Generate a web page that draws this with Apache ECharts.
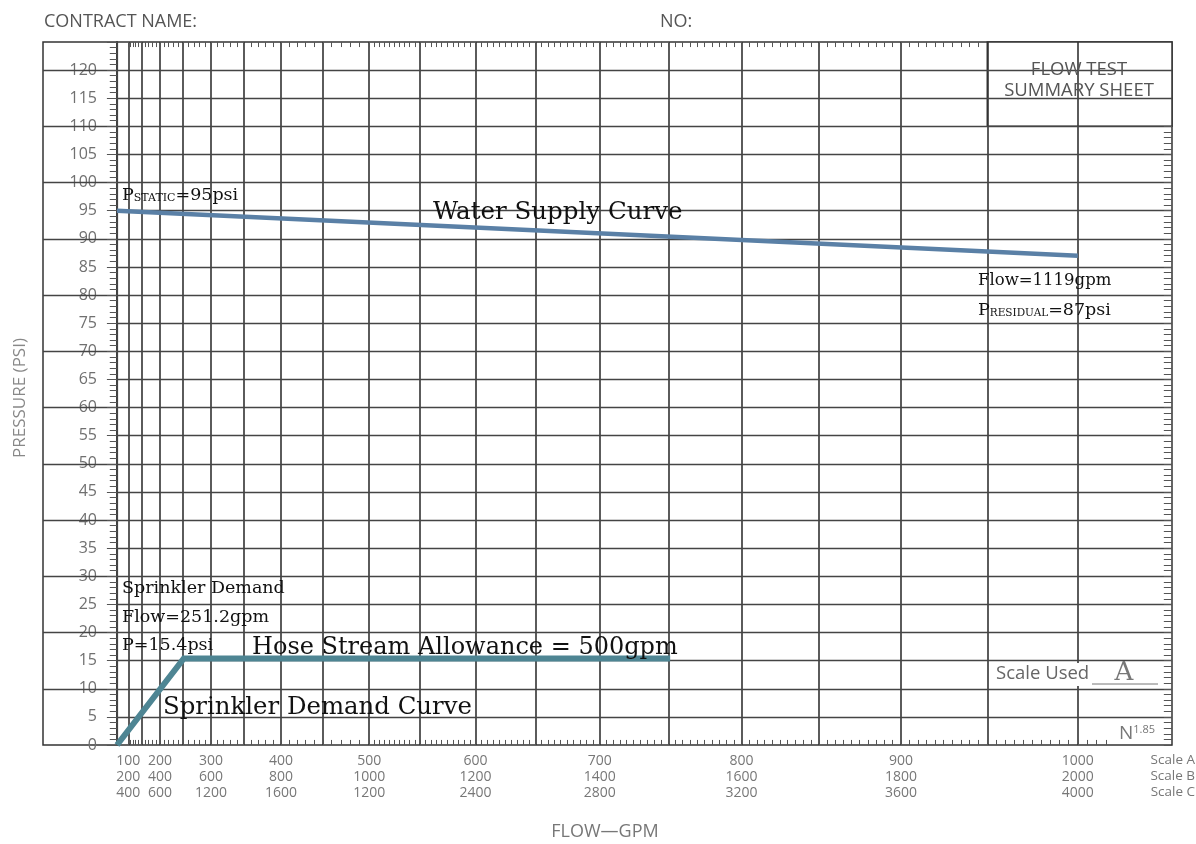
<!DOCTYPE html>
<html>
<head>
<meta charset="utf-8">
<script src="https://cdn.jsdelivr.net/npm/echarts@6/dist/echarts.min.js"></script>
<style>
  html, body { margin: 0; background: #fff; }
  #main { width: 1196px; height: 844px; }
</style>
</head>
<body>
<div id="main"></div>
<script>
// flow test summary sheet - water supply vs sprinkler demand
const scaleA = [100, 200, 300, 400, 500, 600, 700, 800, 900, 1000];
const scaleB = [200, 400, 600, 800, 1000, 1200, 1400, 1600, 1800, 2000];
const scaleC = [400, 600, 1200, 1600, 1200, 2400, 2800, 3200, 3600, 4000];

const staticPressure = 95;
const residualPressure = 87;
const testFlow = 1119;
// the sheet stops at 1000 on scale A, the curve is drawn to that edge
const supplyFlow = [0, 1000];
const supplyPressure = [95, 87];

const sprinklerFlow = 251.2;
const sprinklerPressure = 15.4;
const hoseAllowance = 500;
const demandFlow = [0, 251.2, 751.2];
const demandPressure = [0, 15.4, 15.4];

// sheet is N^1.85 paper, exponent fitted to this scan
const EXP = 1.93;
const toU = q => 1000 * Math.pow(q / 1000, EXP);

const X_MIN = -77, X_MAX = 1098, Y_MAX = 125;

// heavy grid lines
const gridFlows = [];
for (let q = 100; q <= 1000; q += 50) gridFlows.push(q);
const vLines = gridFlows.map(q => [{ coord: [toU(q), 0] }, { coord: [toU(q), Y_MAX] }]);
const hLines = [];
for (let p = 5; p <= 120; p += 5) hLines.push([{ coord: [0, p] }, { coord: [X_MAX, p] }]);
// the 10s run on through the label column
const labelLines = [];
for (let p = 10; p <= 120; p += 10) labelLines.push([{ coord: [X_MIN, p] }, { coord: [0, p] }]);

// small ruler ticks round the sheet
const rulerTicks = [];
for (let q = 100; q <= 1015; q += (q < 500 ? 10 : 5)) {
  const u = toU(q);
  rulerTicks.push([{ coord: [u, 0] }, { coord: [u, 0.9] }]);
  if (q < 950) rulerTicks.push([{ coord: [u, Y_MAX] }, { coord: [u, Y_MAX - 0.9] }]);
}
for (let p = 0; p <= 110; p++) rulerTicks.push([{ coord: [X_MAX - 8.5, p] }, { coord: [X_MAX, p] }]);
const leftRuler = [];
for (let p = 0; p <= Y_MAX; p++) leftRuler.push([{ coord: [p % 5 === 0 ? -10.5 : -7.5, p] }, { coord: [0, p] }]);

const serif = '"DejaVu Serif", serif';
const sans = '"Open Sans", sans-serif';
const grey = '#707070';
const lineMark = { silent: true, symbol: 'none', label: { show: false } };

let myChart = echarts.init(document.getElementById('main'));
myChart.setOption({
  animation: false,
  grid: [
    { left: 117, right: 24, top: 42, bottom: 99, outerBoundsMode: 'none', show: true, borderColor: '#333', borderWidth: 1.5 },
    { left: 43, width: 74, top: 42, bottom: 99, outerBoundsMode: 'none', show: true, borderColor: '#333', borderWidth: 1.5 }
  ],
  xAxis: [
    {
      type: 'value', gridIndex: 0, min: 0, max: X_MAX,
      axisLine: { show: false },
      splitLine: { show: false },
      axisTick: { show: false },
      axisLabel: {
        customValues: scaleA.map(toU),
        color: '#777', fontFamily: sans, fontSize: 14, lineHeight: 16, margin: 8,
        formatter: v => {
          const i = scaleA.findIndex(q => Math.abs(toU(q) - v) < 1e-6);
          return i < 0 ? '' : scaleA[i] + '\n' + scaleB[i] + '\n' + scaleC[i];
        }
      }
    },
    { type: 'value', gridIndex: 1, min: X_MIN, max: 0, show: false }
  ],
  yAxis: [
    {
      type: 'value', gridIndex: 0, min: 0, max: Y_MAX, interval: 5,
      axisLine: { show: true, lineStyle: { color: '#444', width: 1.2 } },
      axisTick: { show: false },
      splitLine: { show: false },
      axisLabel: {
        color: grey, fontFamily: sans, fontSize: 16, margin: 20,
        formatter: v => (v > 120 ? '' : v)
      }
    },
    { type: 'value', gridIndex: 1, min: 0, max: Y_MAX, show: false }
  ],
  series: [
    {
      name: 'sheet', type: 'line', data: [], z: 1, silent: true,
      markLine: {
        ...lineMark,
        data: [
          ...vLines.map(d => [{ ...d[0], lineStyle: { type: 'solid', color: '#333', width: 1.6 } }, d[1]]),
          ...hLines.map(d => [{ ...d[0], lineStyle: { type: 'solid', color: '#444', width: 1.3 } }, d[1]])
        ]
      }
    },
    {
      name: 'ruler', type: 'line', data: [], z: 2, silent: true,
      markLine: { ...lineMark, lineStyle: { type: 'solid', color: '#555', width: 1 }, data: rulerTicks }
    },
    {
      name: 'label column', type: 'line', data: [], z: 2, silent: true,
      xAxisIndex: 1, yAxisIndex: 1,
      markLine: {
        ...lineMark,
        data: [
          ...labelLines.map(d => [{ ...d[0], lineStyle: { type: 'solid', color: '#444', width: 1.3 } }, d[1]]),
          ...leftRuler.map(d => [{ ...d[0], lineStyle: { type: 'solid', color: '#555', width: 1 } }, d[1]])
        ]
      }
    },
    {
      name: 'box', type: 'line', data: [], z: 3, silent: true,
      markArea: {
        silent: true,
        itemStyle: { color: '#fff', borderColor: '#333', borderWidth: 1.5 },
        label: { show: false },
        data: [[{ coord: [toU(950), 110] }, { coord: [X_MAX, Y_MAX] }]]
      }
    },
    {
      name: 'Water Supply Curve', type: 'line', z: 5,
      data: supplyFlow.map((q, i) => [toU(q), supplyPressure[i]]),
      symbol: 'none',
      lineStyle: { color: '#5a80a6', width: 4.5 }
    },
    {
      name: 'Sprinkler Demand Curve', type: 'line', z: 5,
      data: demandFlow.map((q, i) => [toU(q), demandPressure[i]]),
      symbol: 'none',
      lineStyle: { color: '#4e8593', width: 6, join: 'miter' }
    }
  ],
  graphic: [
    { type: 'text', x: 44, y: 22, z: 100, style: { text: 'CONTRACT NAME:', font: '18px ' + sans, fill: '#555', verticalAlign: 'middle' } },
    { type: 'text', x: 660, y: 22, z: 100, style: { text: 'NO:', font: '18px ' + sans, fill: '#555', verticalAlign: 'middle' } },
    { type: 'text', x: 20, y: 398, rotation: Math.PI / 2, z: 100,
      style: { text: 'PRESSURE (PSI)', font: '17px ' + sans, fill: '#888', align: 'center', verticalAlign: 'middle' } },
    { type: 'text', x: 605, y: 832, z: 100,
      style: { text: 'FLOW\u2014GPM', font: '18px ' + sans, fill: '#777', align: 'center', verticalAlign: 'middle' } },
    { type: 'text', x: 1079, y: 80, z: 100,
      style: { text: 'FLOW TEST\nSUMMARY SHEET', font: '18.5px ' + sans, lineHeight: 21, fill: '#555', align: 'center', verticalAlign: 'middle' } },
    { type: 'text', x: 1195, y: 776, z: 100,
      style: { text: 'Scale A\nScale B\nScale C', font: '13.5px ' + sans, lineHeight: 16, fill: '#777', align: 'right', verticalAlign: 'middle' } },
    { type: 'rect', z: 99, shape: { x: 993, y: 663, width: 168, height: 23 }, style: { fill: '#fff' } },
    { type: 'text', x: 996, y: 674, z: 100,
      style: { text: 'Scale Used', font: '18.5px ' + sans, fill: '#666', verticalAlign: 'middle' } },
    { type: 'line', z: 100, shape: { x1: 1092, y1: 684, x2: 1158, y2: 684 }, style: { stroke: '#777', lineWidth: 1 } },
    { type: 'text', x: 1124, y: 673, z: 100,
      style: { text: 'A', font: '26px ' + serif, fill: '#777', align: 'center', verticalAlign: 'middle' } },
    { type: 'text', x: 1119, y: 734, z: 100,
      style: { text: '{n|N}{e|1.85}', rich: { n: { fontSize: 19, fontFamily: sans, fill: '#777' }, e: { fontSize: 11, fontFamily: sans, fill: '#777', verticalAlign: 'top', padding: [0, 0, 8, 0] } }, verticalAlign: 'middle' } },

    { type: 'text', x: 122, y: 195, z: 100,
      style: { text: '{p|P}{s|STATIC}{p|=' + staticPressure + 'psi}',
        rich: { p: { fontSize: 17.5, fontFamily: serif, fill: '#111' }, s: { fontSize: 11, fontFamily: serif, fill: '#111', verticalAlign: 'bottom' } },
        verticalAlign: 'middle' } },
    { type: 'text', x: 433, y: 213, z: 100,
      style: { text: 'Water Supply Curve', font: '24.5px ' + serif, fill: '#111', verticalAlign: 'middle' } },
    { type: 'text', x: 978, y: 281, z: 100,
      style: { text: 'Flow=' + testFlow + 'gpm', font: '16.5px ' + serif, fill: '#111', verticalAlign: 'middle' } },
    { type: 'text', x: 978, y: 310, z: 100,
      style: { text: '{p|P}{s|RESIDUAL}{p|=' + residualPressure + 'psi}',
        rich: { p: { fontSize: 17.5, fontFamily: serif, fill: '#111' }, s: { fontSize: 10.5, fontFamily: serif, fill: '#111', verticalAlign: 'bottom' } },
        verticalAlign: 'middle' } },
    { type: 'text', x: 122, y: 588, z: 100,
      style: { text: 'Sprinkler Demand', font: '17.5px ' + serif, fill: '#111', verticalAlign: 'middle' } },
    { type: 'text', x: 122, y: 617, z: 100,
      style: { text: 'Flow=' + sprinklerFlow + 'gpm', font: '17.5px ' + serif, fill: '#111', verticalAlign: 'middle' } },
    { type: 'text', x: 122, y: 645, z: 100,
      style: { text: 'P=' + sprinklerPressure + 'psi', font: '17.5px ' + serif, fill: '#111', verticalAlign: 'middle' } },
    { type: 'text', x: 252, y: 648, z: 100,
      style: { text: 'Hose Stream Allowance = ' + hoseAllowance + 'gpm', font: '24px ' + serif, fill: '#111', verticalAlign: 'middle' } },
    { type: 'text', x: 163, y: 708, z: 100,
      style: { text: 'Sprinkler Demand Curve', font: '24.4px ' + serif, fill: '#111', verticalAlign: 'middle' } }
  ]
});

window.addEventListener('resize', () => {
  myChart.resize();
});
</script>
</body>
</html>
